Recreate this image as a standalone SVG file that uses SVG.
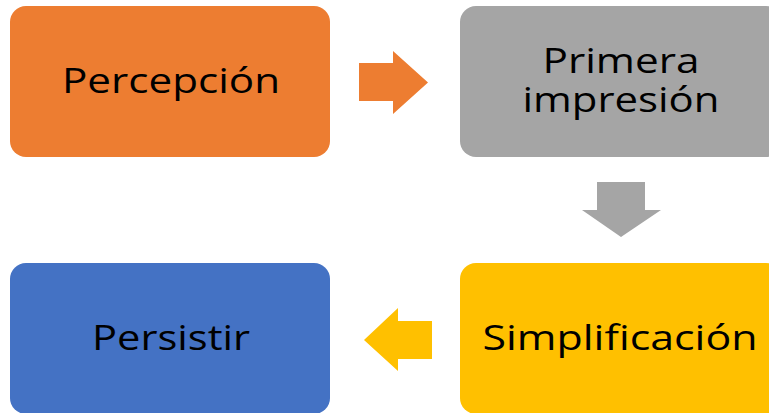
<svg xmlns="http://www.w3.org/2000/svg" width="769" height="413" viewBox="0 0 769 413">
<style>
.t{font-family:"Open Sans","Noto Sans","DejaVu Sans",sans-serif;font-size:35px;fill:#000;text-anchor:middle}
</style>
<rect width="769" height="413" fill="#fff"/>
<g id="percepcion"><rect x="10" y="6" width="320" height="151" rx="16" fill="#ED7D31"/><text class="t" x="171" y="93" textLength="218" lengthAdjust="spacingAndGlyphs">Percepción</text></g>
<g id="primera"><rect x="460" y="6" width="322" height="151" rx="16" fill="#A5A5A5"/><text class="t" x="621" y="73" textLength="157" lengthAdjust="spacingAndGlyphs">Primera</text><text class="t" x="621" y="112" textLength="197" lengthAdjust="spacingAndGlyphs">impresión</text></g>
<g id="simplificacion"><rect x="460" y="263" width="322" height="151" rx="16" fill="#FFC000"/><text class="t" x="620" y="350" textLength="275" lengthAdjust="spacingAndGlyphs">Simplificación</text></g>
<g id="persistir"><rect x="10" y="263" width="320" height="151" rx="16" fill="#4472C4"/><text class="t" x="171" y="350" textLength="158" lengthAdjust="spacingAndGlyphs">Persistir</text></g>
<g id="connectors">
<polygon points="359,63 393,63 393,51 428,82.5 393,114 393,101 359,101" fill="#ED7D31"/>
<polygon points="597,182 645,182 645,210 661,210 621,237 582,210 597,210" fill="#A5A5A5"/>
<polygon points="432,321 398,321 398,308 364,340 398,371 398,359 432,359" fill="#FFC000"/>
</g>
</svg>
